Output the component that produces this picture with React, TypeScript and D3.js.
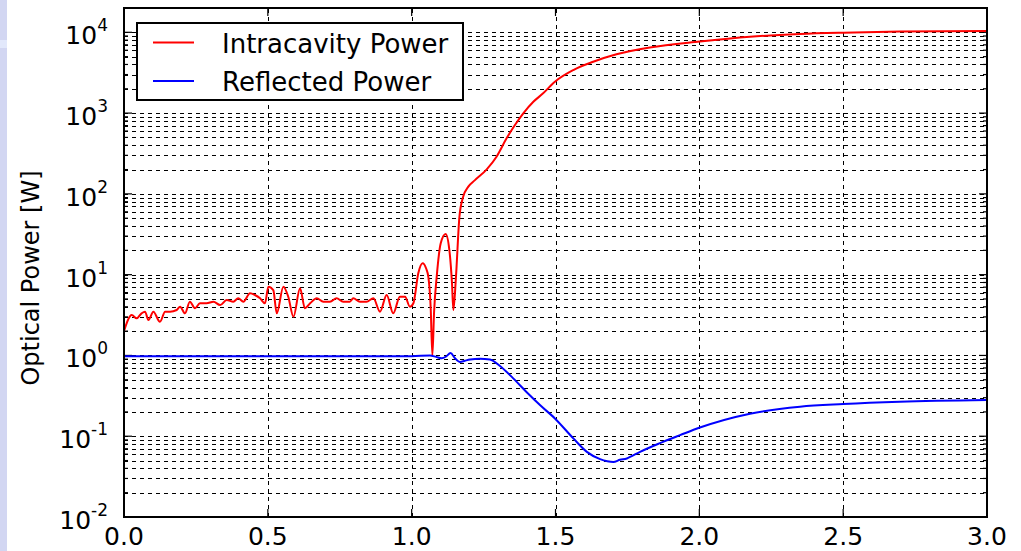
import React, { useEffect, useRef } from 'react';
import * as d3 from 'd3';

// intracavity power (red), time axis [arb.] vs power [W]
const redT = [0.0, 0.027, 0.044, 0.061, 0.073, 0.085, 0.102, 0.125, 0.143, 0.16, 0.183, 0.195, 0.212, 0.229, 0.247, 0.264, 0.287, 0.311, 0.334, 0.357, 0.38, 0.397, 0.415, 0.438, 0.455, 0.473, 0.49, 0.502, 0.519, 0.531, 0.554, 0.571, 0.589, 0.612, 0.629, 0.647, 0.67, 0.693, 0.716, 0.739, 0.762, 0.785, 0.797, 0.82, 0.843, 0.867, 0.89, 0.913, 0.936, 0.959, 0.977, 0.994, 1.006, 1.023, 1.038, 1.05, 1.058, 1.066, 1.072, 1.078, 1.087, 1.101, 1.118, 1.131, 1.14, 1.145, 1.154, 1.166, 1.179, 1.197, 1.22, 1.261, 1.295, 1.33, 1.359, 1.388, 1.423, 1.457, 1.498, 1.562, 1.631, 1.712, 1.828, 2.002, 2.176, 2.35, 2.5, 2.697, 3.0];
const redP = [2.0, 3.16, 2.88, 3.32, 3.48, 2.74, 3.48, 2.61, 3.48, 3.48, 3.65, 4.01, 3.32, 4.62, 3.83, 4.42, 4.42, 4.62, 4.2, 4.85, 4.62, 5.09, 4.62, 5.87, 5.6, 5.09, 4.42, 7.1, 6.45, 3.32, 7.1, 5.33, 3.01, 6.77, 3.83, 4.42, 5.09, 4.62, 4.62, 5.09, 4.62, 4.62, 5.09, 4.62, 4.62, 5.09, 3.48, 5.6, 3.32, 5.33, 5.33, 4.01, 4.42, 10.4, 13.8, 12.0, 9.4, 4.0, 1.0, 3.5, 9.4, 24.4, 31.8, 20.2, 8.0, 3.65, 9.4, 52, 92, 123, 148, 201, 288, 487, 712, 993, 1380, 1757, 2445, 3410, 4320, 5340, 6500, 7700, 8810, 9520, 9880, 10200, 10400];

// reflected power (blue)
const blueT = [0.0, 0.5, 1.0, 1.063, 1.085, 1.104, 1.12, 1.135, 1.15, 1.168, 1.185, 1.203, 1.237, 1.272, 1.307, 1.353, 1.4, 1.446, 1.498, 1.562, 1.609, 1.655, 1.68, 1.701, 1.724, 1.748, 1.77, 1.794, 1.863, 1.933, 2.002, 2.176, 2.35, 2.5, 2.697, 3.0];
const blueP = [0.98, 0.98, 0.98, 1.0, 0.96, 0.92, 0.97, 1.07, 0.93, 0.83, 0.86, 0.89, 0.91, 0.89, 0.74, 0.52, 0.35, 0.243, 0.166, 0.094, 0.064, 0.052, 0.049, 0.048, 0.051, 0.053, 0.058, 0.064, 0.082, 0.103, 0.128, 0.19, 0.232, 0.25, 0.267, 0.28];

const xTicks = [0, 0.5, 1.0, 1.5, 2.0, 2.5, 3.0];
const yExps = [-2, -1, 0, 1, 2, 3, 4];
const seriesNames = ['Intracavity Power', 'Reflected Power'];
const seriesColors = ['#ff0000', '#0000ff'];

export default function App() {
  const svgRef = useRef<SVGSVGElement>(null);
  const width = 1021;
  const height = 551;
  const margin = { top: 8, right: 34, bottom: 34, left: 124 };

  useEffect(() => {
    if (!svgRef.current) return;
    const svg = d3.select(svgRef.current);
    svg.selectAll('*').remove();

    const x0 = margin.left, x1 = width - margin.right;
    const y0 = height - margin.bottom, y1 = margin.top;

    const xScale = d3.scaleLinear().domain([0, 3]).range([x0, x1]);
    const yScale = d3.scaleLog().domain([1e-2, 2e4]).range([y0, y1]);

    svg.append('rect').attr('width', width).attr('height', height).attr('fill', '#fff');
    // left page strip
    svg.append('rect').attr('x', 0).attr('y', 0).attr('width', 7).attr('height', height).attr('fill', '#d2d6f2');
    svg.append('rect').attr('x', 0).attr('y', 40).attr('width', 7).attr('height', 8).attr('fill', '#e2e8fb');

    // grid
    const minor: number[] = [];
    for (let e = -2; e <= 4; e++) {
      for (let m = 1; m <= 9; m++) {
        const v = m * Math.pow(10, e);
        if (v <= 1e4) minor.push(v);
      }
    }
    const grid = svg.append('g')
      .attr('stroke', '#000')
      .attr('stroke-width', 1)
      .attr('stroke-dasharray', '4,4');
    grid.selectAll('line.h')
      .data(minor.filter(v => v > 1e-2))
      .enter().append('line')
      .attr('x1', x0).attr('x2', x1)
      .attr('y1', d => Math.round(yScale(d)) + 0.5)
      .attr('y2', d => Math.round(yScale(d)) + 0.5);
    grid.selectAll('line.v')
      .data(xTicks.filter(t => t > 0 && t < 3))
      .enter().append('line')
      .attr('y1', y0).attr('y2', y1)
      .attr('x1', d => Math.round(xScale(d)) + 0.5)
      .attr('x2', d => Math.round(xScale(d)) + 0.5);

    // ticks
    const ticks = svg.append('g').attr('stroke', '#000').attr('stroke-width', 1.2);
    xTicks.forEach(t => {
      const px = xScale(t);
      ticks.append('line').attr('x1', px).attr('x2', px).attr('y1', y0).attr('y2', y0 - 8);
      ticks.append('line').attr('x1', px).attr('x2', px).attr('y1', y1).attr('y2', y1 + 8);
    });
    minor.forEach(v => {
      const py = yScale(v);
      const lg10 = Math.log10(v);
      const major = Math.abs(lg10 - Math.round(lg10)) < 1e-9;
      const len = major ? 8 : 4;
      ticks.append('line').attr('x1', x0).attr('x2', x0 + len).attr('y1', py).attr('y2', py);
      ticks.append('line').attr('x1', x1).attr('x2', x1 - len).attr('y1', py).attr('y2', py);
    });

    // curves
    const line = d3.line<[number, number]>()
      .x(d => xScale(d[0]))
      .y(d => yScale(d[1]))
      .curve(d3.curveMonotoneX);
    const redData: [number, number][] = redT.map((t, i) => [t, redP[i]]);
    const blueData: [number, number][] = blueT.map((t, i) => [t, blueP[i]]);
    svg.append('path').datum(redData).attr('d', line).attr('fill', 'none')
      .attr('stroke', seriesColors[0]).attr('stroke-width', 2);
    svg.append('path').datum(blueData).attr('d', line).attr('fill', 'none')
      .attr('stroke', seriesColors[1]).attr('stroke-width', 2);

    // frame
    svg.append('rect')
      .attr('x', x0).attr('y', y1).attr('width', x1 - x0).attr('height', y0 - y1)
      .attr('fill', 'none').attr('stroke', '#000').attr('stroke-width', 2);

    const font = "'DejaVu Sans', sans-serif";

    // x labels
    svg.append('g').selectAll('text')
      .data(xTicks).enter().append('text')
      .attr('x', d => xScale(d)).attr('y', 545)
      .attr('text-anchor', 'middle')
      .attr('font-family', font).attr('font-size', 25).attr('fill', '#000')
      .text(d => d.toFixed(1));

    // y labels
    yExps.forEach(e => {
      const txt = svg.append('text')
        .attr('x', 108).attr('y', yScale(Math.pow(10, e)) + 12)
        .attr('text-anchor', 'end')
        .attr('font-family', font).attr('font-size', 25).attr('fill', '#000');
      txt.append('tspan').text('10');
      txt.append('tspan').attr('dy', -13).attr('font-size', 17).text(String(e));
    });

    // y title
    svg.append('text')
      .attr('transform', 'translate(39,278) rotate(-90)')
      .attr('text-anchor', 'middle')
      .attr('font-family', font).attr('font-size', 24).attr('fill', '#000')
      .text('Optical Power [W]');

    // legend
    const lg = svg.append('g');
    lg.append('rect').attr('x', 137).attr('y', 23).attr('width', 326).attr('height', 77)
      .attr('fill', '#fff').attr('stroke', '#000').attr('stroke-width', 2);
    seriesNames.forEach((name, i) => {
      const ly = 42.5 + i * 38.5;
      lg.append('line').attr('x1', 153).attr('x2', 194).attr('y1', ly).attr('y2', ly)
        .attr('stroke', seriesColors[i]).attr('stroke-width', 2);
      lg.append('text').attr('x', 222).attr('y', ly + 10)
        .attr('font-family', font).attr('font-size', 26).attr('fill', '#000')
        .text(name);
    });
  }, []);

  return (
    <svg
      ref={svgRef}
      width={width}
      height={height}
      viewBox={`0 0 ${width} ${height}`}
      style={{ position: 'absolute', left: 0, top: 0, display: 'block' }}
    />
  );
}
